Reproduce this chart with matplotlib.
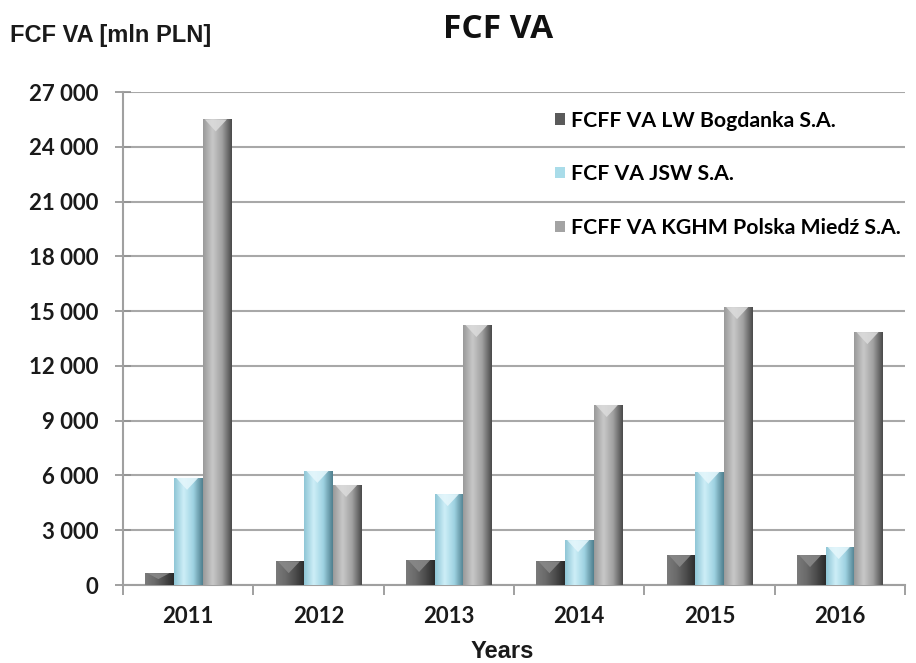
import matplotlib
matplotlib.use("Agg")
import matplotlib.pyplot as plt
import numpy as np
from matplotlib.colors import LinearSegmentedColormap
from matplotlib.patches import Polygon

years = ["2011", "2012", "2013", "2014", "2015", "2016"]
bogdanka = [650, 1300, 1370, 1300, 1640, 1640]
jsw = [5870, 6250, 4980, 2460, 6200, 2080]
kghm = [25500, 5480, 14240, 9860, 15220, 13850]
series_labels = ["FCFF VA LW Bogdanka S.A.", "FCF VA JSW S.A.", "FCFF VA KGHM Polska Miedź S.A."]
yticks = [0, 3000, 6000, 9000, 12000, 15000, 18000, 21000, 24000, 27000]

base_colors = ["#5a5a5a", "#a9dce9", "#a3a3a3"]
top_colors = ["#8a8a8a", "#e6f7fc", "#dcdcdc"]
grad_stops = [
    ["#7a7a7a", "#6a6a6a", "#4c4c4c", "#2a2a2a"],
    ["#8fc6d6", "#cdeef7", "#9fd3e2", "#4f7f8e"],
    ["#9a9a9a", "#c8c8c8", "#a0a0a0", "#4a4a4a"],
]

fig = plt.figure(figsize=(9.16, 6.63), dpi=100)
ax = fig.add_axes([0.1343, 0.1176, 0.988 - 0.1343, 0.8612 - 0.1176])

x = np.arange(len(years))
w = 0.22
offsets = [-w, 0, w]
all_series = [bogdanka, jsw, kghm]

ax.set_ylim(0, 27000)
ax.set_xlim(-0.5, len(years) - 0.5)

# data units per pixel (vertical)
fig.canvas.draw()
bbox = ax.get_window_extent()
dy_per_px = 27000 / bbox.height

for si, (vals, off) in enumerate(zip(all_series, offsets)):
    bars = ax.bar(x + off, vals, width=w, color=base_colors[si], label=series_labels[si],
                  zorder=3, edgecolor="none")
    cmap = LinearSegmentedColormap.from_list("g%d" % si, grad_stops[si])
    grad = np.linspace(0, 1, 64).reshape(1, -1)
    for b in bars:
        x0, wd, h = b.get_x(), b.get_width(), b.get_height()
        im = ax.imshow(grad, cmap=cmap, aspect="auto", extent=(x0, x0 + wd, 0, h),
                       zorder=3.5, interpolation="bicubic")
        im.set_clip_path(b)
        depth = min(12 * dy_per_px, h * 0.5)
        tri = Polygon([[x0 + wd * 0.08, h], [x0 + wd * 0.85, h], [x0 + wd * 0.46, h - depth]],
                      closed=True, facecolor=top_colors[si], edgecolor="none", alpha=0.85, zorder=4)
        ax.add_patch(tri)

ax.set_xlim(-0.5, len(years) - 0.5)
ax.set_ylim(0, 27000)

ax.set_yticks(yticks)
ax.set_yticklabels([f"{v:,}".replace(",", " ") for v in yticks])
ax.set_xticks(x)
ax.set_xticklabels(years)
ax.set_xticks(np.arange(-0.5, len(years)), minor=True)
ax.tick_params(axis="x", which="major", length=0, pad=15)
ax.tick_params(axis="x", which="minor", length=7, color="#909090", width=1.2)
ax.tick_params(axis="y", length=12, direction="inout", color="#909090", width=1.2, pad=12)

for lab in ax.get_xticklabels() + ax.get_yticklabels():
    lab.set_fontfamily("Lato")
    lab.set_fontweight("bold")
    lab.set_fontsize(16)
    lab.set_color("#1a1a1a")

ax.grid(axis="y", color="#a8a8a8", linewidth=1.5, zorder=0)
ax.set_axisbelow(True)
for s in ["top", "right"]:
    ax.spines[s].set_visible(False)
for s in ["left", "bottom"]:
    ax.spines[s].set_color("#a0a0a0")
    ax.spines[s].set_linewidth(1.5)

leg = ax.legend(loc="upper left", bbox_to_anchor=(0.553, 0.962), frameon=False,
                borderpad=0, borderaxespad=0,
                labelspacing=1.58, handlelength=0.45, handleheight=0.45, handletextpad=0.3,
                prop={"family": "Lato", "weight": "bold", "size": 15.3})

fig.text(0.011, 0.946, "FCF VA [mln PLN]", fontsize=17, fontweight="bold",
         family="Liberation Sans", ha="left", va="center", color="#1a1a1a")
fig.text(0.544, 0.955, "FCF VA", fontsize=24, fontweight="bold",
         family="Open Sans", ha="center", va="center", color="#111111")
fig.text(0.548, 0.017, "Years", fontsize=17, fontweight="bold",
         family="Liberation Sans", ha="center", va="center", color="#1a1a1a")

fig.savefig("out.png", dpi=100)
